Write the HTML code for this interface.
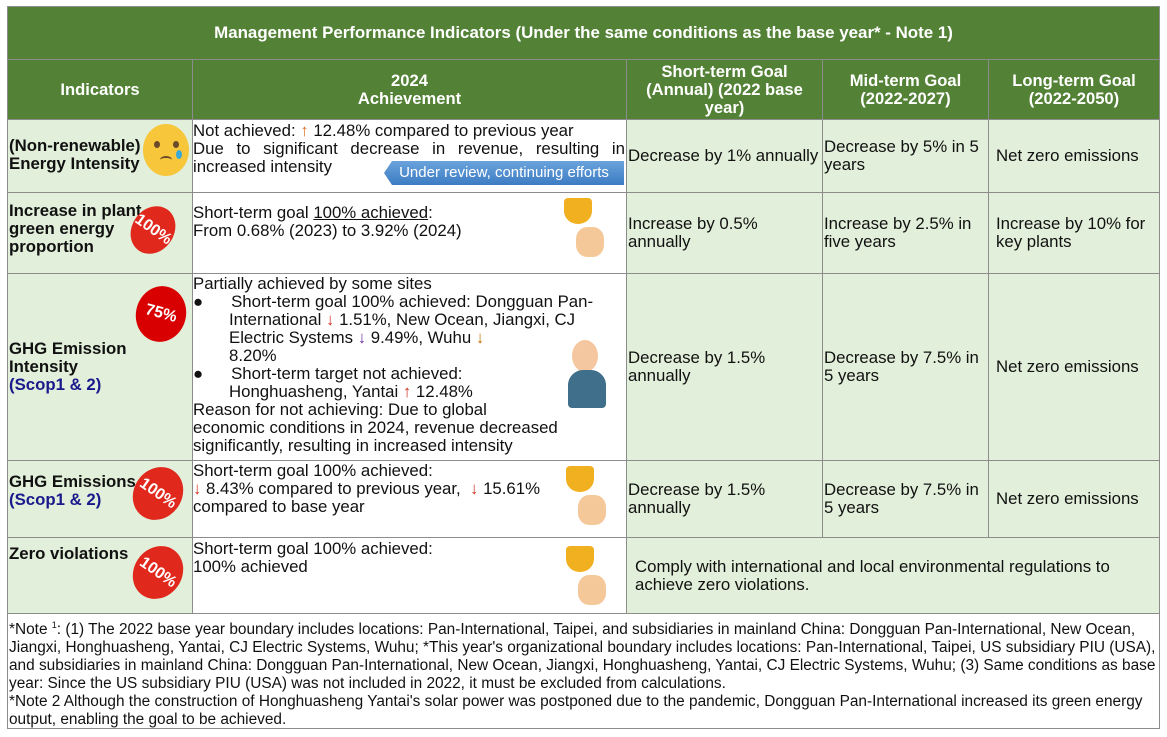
<!DOCTYPE html>
<html><head><meta charset="utf-8"><style>
body{margin:0;width:1167px;height:737px;background:#fff;font-family:"Liberation Sans",Arial,sans-serif;position:relative;overflow:hidden}
.c{position:absolute;box-sizing:border-box;border:1px solid #8c8c8c}
.g{background:#538135;color:#fff;font-weight:bold;font-size:16.6px;text-align:center;display:flex;align-items:center;justify-content:center;line-height:18px}
.l{background:#e2efda}
.w{background:#fff}
.t{position:absolute;font-size:16.8px;line-height:18px;color:#111;white-space:nowrap}
.b{font-weight:bold}
.blue{color:#1a1a8c;font-weight:bold}
.badge{position:absolute;border-radius:50%;background:#e0281c;color:#fff;font-weight:bold;display:flex;align-items:center;justify-content:center;font-size:16px;transform:rotate(35deg)}
.r{color:#d03020}
.troph{position:absolute;width:50px;height:62px}
</style></head><body>
<div class="c g" style="left:7px;top:6px;width:1153px;height:54px;font-size:16.9px">Management Performance Indicators (Under the same conditions as the base year* - Note 1)</div>
<div class="c g" style="left:7px;top:59px;width:186px;height:61px">Indicators</div>
<div class="c g" style="left:192px;top:59px;width:435px;height:61px">2024<br>Achievement</div>
<div class="c g" style="left:626px;top:59px;width:197px;height:61px">Short-term Goal<br>(Annual) (2022 base<br>year)</div>
<div class="c g" style="left:822px;top:59px;width:167px;height:61px">Mid-term Goal<br>(2022-2027)</div>
<div class="c g" style="left:988px;top:59px;width:172px;height:61px">Long-term Goal<br>(2022-2050)</div>

<div class="c l" style="left:7px;top:119px;width:186px;height:74px"></div>
<div class="c w" style="left:192px;top:119px;width:435px;height:74px"></div>
<div class="c l" style="left:626px;top:119px;width:197px;height:74px"></div>
<div class="c l" style="left:822px;top:119px;width:167px;height:74px"></div>
<div class="c l" style="left:988px;top:119px;width:172px;height:74px"></div>

<div class="c l" style="left:7px;top:192px;width:186px;height:82px"></div>
<div class="c w" style="left:192px;top:192px;width:435px;height:82px"></div>
<div class="c l" style="left:626px;top:192px;width:197px;height:82px"></div>
<div class="c l" style="left:822px;top:192px;width:167px;height:82px"></div>
<div class="c l" style="left:988px;top:192px;width:172px;height:82px"></div>

<div class="c l" style="left:7px;top:273px;width:186px;height:188px"></div>
<div class="c w" style="left:192px;top:273px;width:435px;height:188px"></div>
<div class="c l" style="left:626px;top:273px;width:197px;height:188px"></div>
<div class="c l" style="left:822px;top:273px;width:167px;height:188px"></div>
<div class="c l" style="left:988px;top:273px;width:172px;height:188px"></div>

<div class="c l" style="left:7px;top:460px;width:186px;height:78px"></div>
<div class="c w" style="left:192px;top:460px;width:435px;height:78px"></div>
<div class="c l" style="left:626px;top:460px;width:197px;height:78px"></div>
<div class="c l" style="left:822px;top:460px;width:167px;height:78px"></div>
<div class="c l" style="left:988px;top:460px;width:172px;height:78px"></div>

<div class="c l" style="left:7px;top:537px;width:186px;height:77px"></div>
<div class="c w" style="left:192px;top:537px;width:435px;height:77px"></div>
<div class="c l" style="left:626px;top:537px;width:534px;height:77px"></div>

<div class="c w" style="left:7px;top:613px;width:1153px;height:116px"></div>

<div class="t b" style="left:9px;top:137px">(Non-renewable)<br>Energy Intensity</div>
<div style="position:absolute;left:143px;top:124px;width:46px;height:52px;border-radius:50%;background:#f7c63a"></div>
<div style="position:absolute;left:154px;top:141px;width:6px;height:7px;border-radius:50%;background:#6b4a2a"></div>
<div style="position:absolute;left:173px;top:141px;width:6px;height:7px;border-radius:50%;background:#6b4a2a"></div>
<div style="position:absolute;left:176px;top:150px;width:6px;height:9px;border-radius:50%;background:#39a9d8"></div>
<div style="position:absolute;left:160px;top:156px;width:12px;height:6px;border-top:2px solid #6b4a2a;border-radius:50%"></div>
<div class="t b" style="left:9px;top:202px">Increase in plant<br>green energy<br>proportion</div>
<div class="badge" style="left:132px;top:205px;width:42px;height:50px">100%</div>
<div class="t b" style="left:9px;top:340px">GHG Emission<br>Intensity<br><span class="blue">(Scop1 &amp; 2)</span></div>
<div class="badge" style="left:136px;top:286px;width:50px;height:56px;background:#d80000;transform:rotate(15deg)">75%</div>
<div class="t b" style="left:9px;top:473px">GHG Emissions<br><span class="blue">(Scop1 &amp; 2)</span></div>
<div class="badge" style="left:134px;top:466px;width:48px;height:55px">100%</div>
<div class="t b" style="left:9px;top:545px">Zero violations</div>
<div class="badge" style="left:134px;top:545px;width:48px;height:55px">100%</div>

<div class="t" style="left:193px;top:122px">Not achieved: <span style="color:#e07020">↑</span> 12.48% compared to previous year<br><span style="display:inline-block;width:432px;text-align:justify;text-align-last:justify">Due to significant decrease in revenue, resulting in</span><br>increased intensity</div>
<div style="position:absolute;left:384px;top:161px;width:240px;height:24px;background:linear-gradient(#6aa3dc,#3d7cc3);clip-path:polygon(8px 0,100% 0,100% 100%,8px 100%,0 50%);color:#fff;font-size:15px;line-height:24px;text-align:center">Under review, continuing efforts</div>
<div class="t" style="left:193px;top:204px">Short-term goal <u>100% achieved</u>:<br>From 0.68% (2023) to 3.92% (2024)</div>
<div class="troph" style="left:556px;top:195px"><div style="position:absolute;left:8px;top:3px;width:28px;height:26px;background:#f0b020;border-radius:4px 4px 50% 50%"></div><div style="position:absolute;left:20px;top:32px;width:28px;height:30px;background:#f5c89a;border-radius:40%"></div></div>
<div class="t" style="left:193px;top:275px">Partially achieved by some sites<br>●&nbsp;&nbsp;&nbsp;&nbsp;&nbsp;&nbsp;Short-term goal 100% achieved: Dongguan Pan-<br><span style="padding-left:36px">International <span class="r">↓</span> 1.51%, New Ocean, Jiangxi, CJ</span><br><span style="padding-left:36px">Electric Systems <span style="color:#7030a0">↓</span> 9.49%, Wuhu <span style="color:#c07000">↓</span></span><br><span style="padding-left:36px">8.20%</span><br>●&nbsp;&nbsp;&nbsp;&nbsp;&nbsp;&nbsp;Short-term target not achieved:<br><span style="padding-left:36px">Honghuasheng, Yantai <span class="r">↑</span> 12.48%</span><br>Reason for not achieving: Due to global<br>economic conditions in 2024, revenue decreased<br>significantly, resulting in increased intensity</div>
<div style="position:absolute;left:572px;top:340px;width:26px;height:32px;border-radius:50%;background:#f5c7a0"></div>
<div style="position:absolute;left:568px;top:370px;width:38px;height:38px;border-radius:40% 40% 4px 4px;background:#3f6f8a"></div>
<div class="t" style="left:193px;top:462px">Short-term goal 100% achieved:<br><span class="r">↓</span> 8.43% compared to previous year, &nbsp;<span class="r">↓</span> 15.61%<br>compared to base year</div>
<div class="troph" style="left:558px;top:463px"><div style="position:absolute;left:8px;top:3px;width:28px;height:26px;background:#f0b020;border-radius:4px 4px 50% 50%"></div><div style="position:absolute;left:20px;top:32px;width:28px;height:30px;background:#f5c89a;border-radius:40%"></div></div>
<div class="t" style="left:193px;top:540px">Short-term goal 100% achieved:<br>100% achieved</div>
<div class="troph" style="left:558px;top:543px"><div style="position:absolute;left:8px;top:3px;width:28px;height:26px;background:#f0b020;border-radius:4px 4px 50% 50%"></div><div style="position:absolute;left:20px;top:32px;width:28px;height:30px;background:#f5c89a;border-radius:40%"></div></div>

<div class="t" style="left:628px;top:147px">Decrease by 1% annually</div>
<div class="t" style="left:824px;top:138px">Decrease by 5% in 5<br>years</div>
<div class="t" style="left:996px;top:147px">Net zero emissions</div>
<div class="t" style="left:628px;top:215px">Increase by 0.5%<br>annually</div>
<div class="t" style="left:824px;top:215px">Increase by 2.5% in<br>five years</div>
<div class="t" style="left:996px;top:215px">Increase by 10% for<br>key plants</div>
<div class="t" style="left:628px;top:349px">Decrease by 1.5%<br>annually</div>
<div class="t" style="left:824px;top:349px">Decrease by 7.5% in<br>5 years</div>
<div class="t" style="left:996px;top:358px">Net zero emissions</div>
<div class="t" style="left:628px;top:481px">Decrease by 1.5%<br>annually</div>
<div class="t" style="left:824px;top:481px">Decrease by 7.5% in<br>5 years</div>
<div class="t" style="left:996px;top:490px">Net zero emissions</div>
<div class="t" style="left:635px;top:558px">Comply with international and local environmental regulations to<br>achieve zero violations.</div>

<div class="t" style="left:9px;top:616px;width:1150px;font-size:15.4px;line-height:18px;white-space:normal">*Note <sup style="font-size:9px">1</sup>: (1) The 2022 base year boundary includes locations: Pan-International, Taipei, and subsidiaries in mainland China: Dongguan Pan-International, New Ocean, Jiangxi, Honghuasheng, Yantai, CJ Electric Systems, Wuhu; *This year's organizational boundary includes locations: Pan-International, Taipei, US subsidiary PIU (USA), and subsidiaries in mainland China: Dongguan Pan-International, New Ocean, Jiangxi, Honghuasheng, Yantai, CJ Electric Systems, Wuhu; (3) Same conditions as base year: Since the US subsidiary PIU (USA) was not included in 2022, it must be excluded from calculations.<br>*Note 2 Although the construction of Honghuasheng Yantai's solar power was postponed due to the pandemic, Dongguan Pan-International increased its green energy output, enabling the goal to be achieved.</div>
</body></html>
